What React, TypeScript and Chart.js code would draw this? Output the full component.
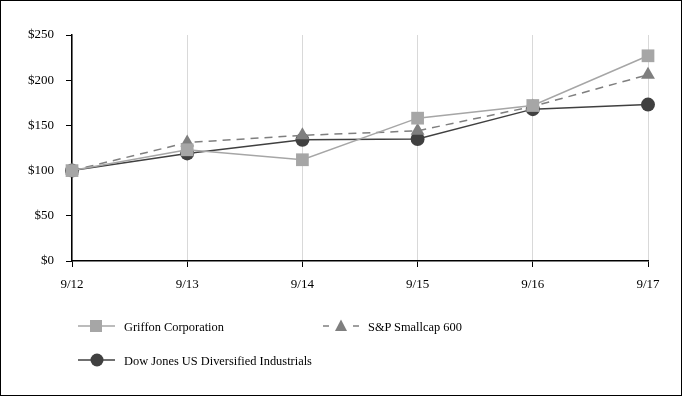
import React, { useEffect, useRef } from "react";
import { Chart, registerables } from "chart.js";

Chart.register(...registerables);

const categories = ["9/12", "9/13", "9/14", "9/15", "9/16", "9/17"];
const griffon = [100, 123, 112, 158, 172, 227];
const smallcap = [100, 131, 139, 144, 171, 206];
const dowJones = [100, 119, 134, 135, 168, 173];
const yTicks = [0, 50, 100, 150, 200, 250];

const FONT = "'Liberation Serif', 'Times New Roman', serif";

export default function App() {
  const ref = useRef<HTMLCanvasElement | null>(null);

  useEffect(() => {
    document.body.style.margin = "0";
    const ctx = ref.current!.getContext("2d")!;
    const chart = new Chart(ctx, {
      type: "line",
      data: {
        labels: categories,
        datasets: [
          {
            label: "Griffon Corporation",
            data: griffon,
            borderColor: "#a6a6a6",
            backgroundColor: "#a6a6a6",
            borderWidth: 1.5,
            pointStyle: "rect",
            pointRadius: 9,
            pointBorderWidth: 0,
            order: 1,
          },
          {
            label: "S&P Smallcap 600",
            data: smallcap,
            borderColor: "#7f7f7f",
            backgroundColor: "#7f7f7f",
            borderWidth: 1.5,
            borderDash: [8, 6],
            pointStyle: "triangle",
            pointRadius: 8,
            pointBorderWidth: 0,
            order: 2,
          },
          {
            label: "Dow Jones US Diversified Industrials",
            data: dowJones,
            borderColor: "#404040",
            backgroundColor: "#404040",
            borderWidth: 1.5,
            pointStyle: "circle",
            pointRadius: 7,
            pointBorderWidth: 0,
            order: 3,
          },
        ],
      },
      options: {
        animation: false,
        responsive: false,
        layout: { padding: { left: 0, right: 34, top: 35, bottom: 106 } },
        plugins: { legend: { display: false }, tooltip: { enabled: false } },
        scales: {
          x: {
            offset: false,
            grid: {
              display: true,
              color: "#d9d9d9",
              lineWidth: 1,
              tickColor: "#000",
              tickLength: 6,
              drawTicks: true,
            },
            border: { color: "#000", width: 1.5 },
            ticks: {
              color: "#000",
              font: { family: FONT, size: 13 },
              padding: 10,
              maxRotation: 0,
            },
            afterFit: (s: any) => {
              s.height = 30;
            },
          },
          y: {
            min: 0,
            max: 250,
            afterBuildTicks: (s: any) => {
              s.ticks = yTicks.map((v) => ({ value: v }));
            },
            grid: {
              drawOnChartArea: false,
              drawTicks: true,
              tickLength: 6,
              tickColor: "#000",
            },
            border: { color: "#000", width: 1.5 },
            ticks: {
              color: "#000",
              font: { family: FONT, size: 13 },
              padding: 12,
              callback: (v: any) => "$" + v,
            },
            afterFit: (s: any) => {
              s.width = 72;
            },
          },
        },
      },
    });
    return () => chart.destroy();
  }, []);

  const textStyle: React.CSSProperties = {
    position: "absolute",
    fontFamily: FONT,
    fontSize: 12.4,
    color: "#000",
    lineHeight: "16px",
    whiteSpace: "nowrap",
  };

  return (
    <div
      style={{
        position: "relative",
        width: 682,
        height: 396,
        boxSizing: "border-box",
        border: "1px solid #000",
        background: "#fff",
        overflow: "hidden",
      }}
    >
      <canvas
        ref={ref}
        width={682}
        height={397}
        style={{ position: "absolute", left: -1, top: -1, width: 682, height: 397 }}
      />
      <svg
        width={682}
        height={397}
        style={{ position: "absolute", left: -1, top: -1 }}
      >
        <line x1={78} y1={326} x2={115} y2={326} stroke="#a6a6a6" strokeWidth={1.5} />
        <rect x={90} y={320} width={12} height={12} fill="#a6a6a6" />
        <line x1={323} y1={326} x2={329} y2={326} stroke="#7f7f7f" strokeWidth={1.5} />
        <line x1={353} y1={326} x2={359} y2={326} stroke="#7f7f7f" strokeWidth={1.5} />
        <polygon points="341,319.5 347,331 335,331" fill="#7f7f7f" />
        <line x1={78} y1={360} x2={115} y2={360} stroke="#404040" strokeWidth={1.5} />
        <circle cx={97} cy={360} r={6.5} fill="#404040" />
      </svg>
      <div style={{ ...textStyle, left: 123, top: 318 }}>Griffon Corporation</div>
      <div style={{ ...textStyle, left: 367, top: 318 }}>S&amp;P Smallcap 600</div>
      <div style={{ ...textStyle, left: 123, top: 352 }}>
        Dow Jones US Diversified Industrials
      </div>
    </div>
  );
}
